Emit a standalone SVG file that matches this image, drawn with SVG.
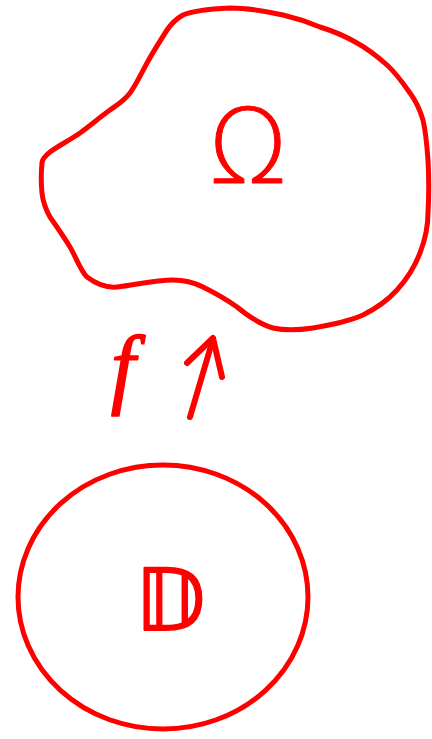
<svg xmlns="http://www.w3.org/2000/svg" width="432" height="739" viewBox="0 0 432 739">
<style>
.shape{fill:none;stroke:#ff0000;stroke-width:5;stroke-linejoin:round;stroke-linecap:round}
.lbl{fill:#ff0000;stroke:#ff0000;text-anchor:middle;stroke-linejoin:round}
.conn{fill:none;stroke:#ff0000;stroke-width:6;stroke-linecap:round;stroke-linejoin:round}
</style>
<rect width="432" height="739" fill="#ffffff"/>
<g id="omega-node">
<path class="shape" d="M230,8 C210,9 192,11 183,15 C176,19 171,24 167,30 C160,41 153,52 147,63 C141,74 136,85 130,93 C124,101 117,105 110,110 C100,117 90,126 80,133 C70,140 58,146 50,152 C45,156 42,159 42,163 C41,173 41,183 42,193 C43,202 46,210 50,217 C57,227 64,237 70,247 C76,257 80,270 87,277 C95,283 106,288 117,287 C135,285 155,280 173,280 C185,280 195,283 203,287 C215,293 226,299 237,307 C248,316 259,324 273,328 C286,331 300,330 313,328 C330,325 347,322 363,315 C377,308 388,300 397,290 C407,279 415,266 420,253 C425,240 428,227 428,213 C429,195 429,178 428,160 C427,146 426,133 423,120 C420,110 416,101 410,93 C403,83 396,73 387,65 C378,57 368,49 357,43 C345,36 333,31 320,27 C308,22 296,18 283,15 C265,11 248,8 230,8 Z"/>
<text class="lbl" x="248" y="183" font-family="DejaVu Sans, sans-serif" font-weight="200" font-size="104" stroke-width="1">Ω</text>
</g>
<g id="f-label">
<text class="lbl" x="123" y="397" font-family="Liberation Serif, serif" font-style="italic" font-size="88" stroke-width="1.5">f</text>
</g>
<g id="connectors">
<path class="conn" d="M190,417 L213,339"/>
<path class="conn" d="M187,363 L213,338 L222,377"/>
</g>
<g id="d-node">
<ellipse class="shape" cx="163" cy="597" rx="145" ry="132"/>
<text class="lbl" x="170" y="630" font-family="DejaVu Sans, sans-serif" font-size="86" stroke-width="2">𝔻</text>
</g>
</svg>
